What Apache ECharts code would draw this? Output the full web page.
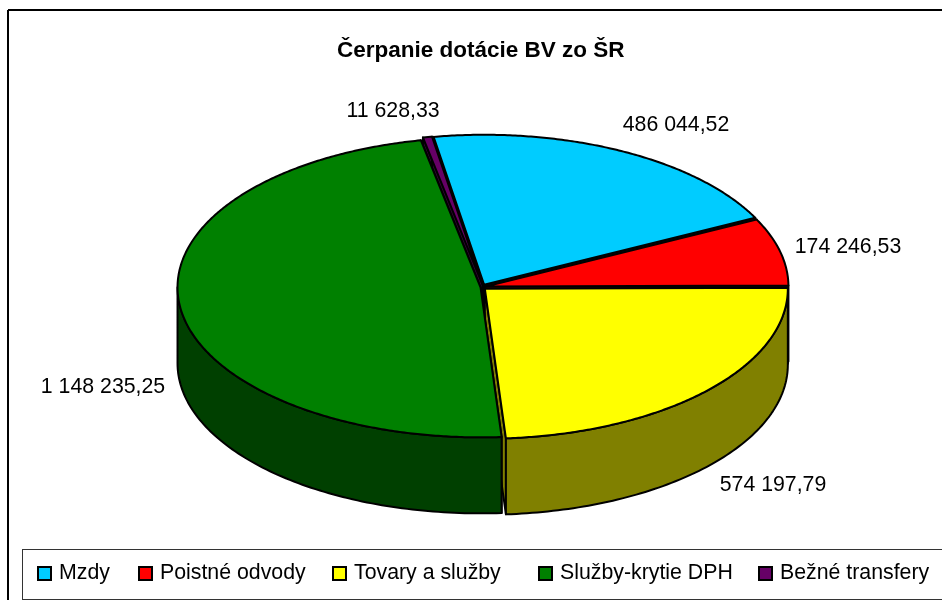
<!DOCTYPE html>
<html>
<head>
<meta charset="utf-8">
<style>html,body{margin:0;padding:0;background:#fff;overflow:hidden}</style>
<script src="https://cdn.jsdelivr.net/npm/echarts@6/dist/echarts.min.js"></script>
</head>
<body>
<div id="main" style="width:942px;height:600px"></div>
<script>
var title = 'Čerpanie dotácie BV zo ŠR';
var categories = ['Mzdy', 'Poistné odvody', 'Tovary a služby', 'Služby-krytie DPH', 'Bežné transfery'];
var values = [486044.52, 174246.53, 574197.79, 1148235.25, 11628.33];
var colors = ['#00CCFF', '#FF0000', '#FFFF00', '#008000', '#660066'];
var wallColors = ['#006680', '#800000', '#808000', '#004000', '#330033'];

// the pie is an ellipse with a wall under it, echarts has no 3d pie without gl
var cx = 483, cy = 287, rx = 303, ry = 150, depth = 76, explode = 2.5;
var startAngle = -9.6;
var fontName = '"Liberation Sans", Arial, sans-serif';
// draw order, back slices first
var drawOrder = [0, 4, 1, 2, 3];
var labelPos = [[676, 125], [848, 247], [773, 485], [103, 387], [393, 111]];
var legendLeft = [37, 138, 332, 538, 758];

var total = 0;
for (var i = 0; i < values.length; i++) {
	total += values[i];
}
var angles = [];
var acc = startAngle;
for (var i = 0; i < values.length; i++) {
	var sweep = values[i] / total * 360;
	angles.push([acc, acc + sweep]);
	acc += sweep;
}

function rim(a, ox, oy, down) {
	var r = a * Math.PI / 180;
	return [cx + ox + rx * Math.sin(r), cy + oy - ry * Math.cos(r) + down];
}

function formatValue(v) {
	var parts = v.toFixed(2).split('.');
	return parts[0].replace(/\B(?=(\d{3})+$)/g, ' ') + ',' + parts[1];
}

function poly(points, fill) {
	return {
		type: 'polygon',
		shape: { points: points },
		style: { fill: fill, stroke: '#000', lineWidth: 2, lineJoin: 'round' }
	};
}

function sliceItem(idx) {
	var a0 = angles[idx][0], a1 = angles[idx][1];
	var mid = (a0 + a1) / 2 * Math.PI / 180;
	var ox = explode * Math.sin(mid), oy = -explode * Math.cos(mid);
	var c = [cx + ox, cy + oy];
	var cd = [c[0], c[1] + depth];
	var children = [];
	// cut faces
	var p0 = rim(a0, ox, oy, 0), p1 = rim(a1, ox, oy, 0);
	children.push(poly([c, p0, [p0[0], p0[1] + depth], cd], wallColors[idx]));
	children.push(poly([c, p1, [p1[0], p1[1] + depth], cd], wallColors[idx]));
	// outer wall, only the front half of the ellipse shows
	var w0 = Math.max(a0, 90), w1 = Math.min(a1, 270);
	if (w1 > w0) {
		var wall = [];
		for (var a = w0; a < w1; a += 1) {
			wall.push(rim(a, ox, oy, 0));
		}
		wall.push(rim(w1, ox, oy, 0));
		wall.push(rim(w1, ox, oy, depth));
		for (var a = w1; a > w0; a -= 1) {
			wall.push(rim(a, ox, oy, depth));
		}
		wall.push(rim(w0, ox, oy, depth));
		children.push(poly(wall, wallColors[idx]));
	}
	// top
	var top = [c];
	for (var a = a0; a < a1; a += 0.5) {
		top.push(rim(a, ox, oy, 0));
	}
	top.push(p1);
	children.push(poly(top, colors[idx]));
	return { type: 'group', children: children };
}

var series = [];
for (var k = 0; k < drawOrder.length; k++) {
	(function (idx, order) {
		series.push({
			type: 'custom',
			name: categories[idx],
			coordinateSystem: 'none',
			z: 2 + order,
			silent: true,
			animation: false,
			itemStyle: { color: colors[idx] },
			data: [[values[idx]]],
			renderItem: function () {
				return sliceItem(idx);
			}
		});
	})(drawOrder[k], k);
}

var graphics = [
	{ type: 'line', shape: { x1: 8, y1: 10, x2: 942, y2: 10 }, style: { stroke: '#000', lineWidth: 2 }, z: 0 },
	{ type: 'line', shape: { x1: 8, y1: 10, x2: 8, y2: 600 }, style: { stroke: '#000', lineWidth: 2 }, z: 0 },
	{ type: 'line', shape: { x1: 22, y1: 549.5, x2: 942, y2: 549.5 }, style: { stroke: '#333', lineWidth: 1 }, z: 0 },
	{ type: 'line', shape: { x1: 22.5, y1: 549, x2: 22.5, y2: 600 }, style: { stroke: '#333', lineWidth: 1 }, z: 0 },
	{ type: 'line', shape: { x1: 22, y1: 599.5, x2: 942, y2: 599.5 }, style: { stroke: '#333', lineWidth: 1 }, z: 0 }
];
for (var i = 0; i < values.length; i++) {
	graphics.push({
		type: 'text',
		x: labelPos[i][0],
		y: labelPos[i][1],
		z: 20,
		style: {
			text: formatValue(values[i]),
			fill: '#000',
			font: '21.3px ' + fontName,
			textAlign: 'center',
			textVerticalAlign: 'middle'
		}
	});
}

// one legend per entry, the gaps in the picture are not even
var legends = [];
for (var i = 0; i < categories.length; i++) {
	legends.push({
		data: [categories[i]],
		left: legendLeft[i],
		top: 563,
		padding: 0,
		icon: 'rect',
		itemWidth: 13,
		itemHeight: 13,
		selectedMode: false,
		itemStyle: { borderColor: '#000', borderWidth: 2 },
		textStyle: { fontFamily: fontName, fontSize: 21.3, color: '#000', padding: [0, 0, 0, 3] }
	});
}

var chart = echarts.init(document.getElementById('main'), null, { renderer: 'canvas' });
chart.setOption({
	animation: false,
	backgroundColor: '#fff',
	title: {
		text: title,
		left: 337,
		top: 39,
		padding: 0,
		textStyle: { fontFamily: fontName, fontSize: 22.5, fontWeight: 'bold', color: '#000' }
	},
	legend: legends,
	graphic: graphics,
	series: series
});
</script>
</body>
</html>
